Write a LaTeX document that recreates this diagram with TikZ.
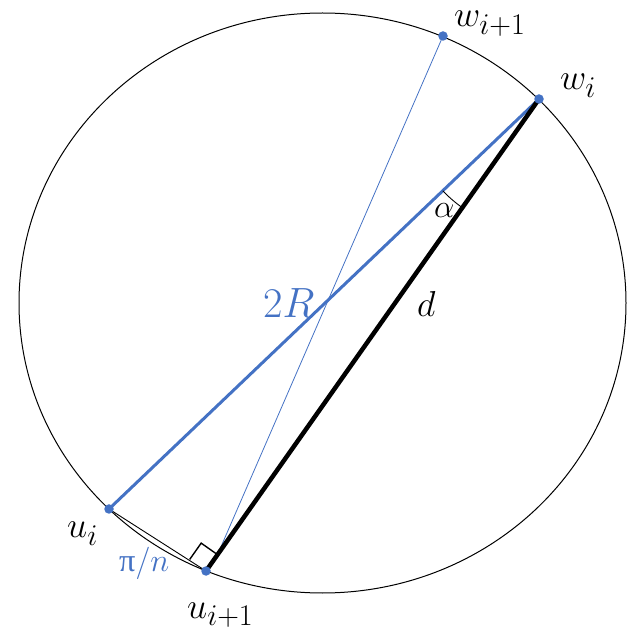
\documentclass[tikz,border=0pt]{standalone}
\usepackage{graphicx}
\usepackage{fontspec}
\newfontfamily\greekfont{Liberation Serif}
\usetikzlibrary{calc,angles}
\definecolor{chordblue}{HTML}{4472C4}
\newcommand{\biglbl}[2]{\scalebox{#1}{\Huge #2}}

\begin{document}
\begin{tikzpicture}[x=1pt, y=-1pt,
  dot/.style = {circle, fill=chordblue, inner sep=0pt, minimum size=9.5pt},
  lbl/.style = {inner sep=0pt, anchor=base west}]
\useasboundingbox (0,0) rectangle (641,631);

% points on the circle
\coordinate (O)   at (322.5,303);
\coordinate (wip) at (443,36);
\coordinate (wi)  at (539,99);
\coordinate (ui)  at (109,509);
\coordinate (uip) at (206,571);

% right angle corner
\coordinate (sq1) at ($(uip)!20pt!(wi)$);
\coordinate (sq2) at ($(uip)!20pt!90:(wi)$);
\coordinate (sq3) at ($(sq1)+(sq2)-(uip)$);

\draw[line width=1pt] (O) ellipse [x radius=303.5, y radius=290];

\draw[chordblue, line width=0.8pt] (wip) -- (sq1);
\draw[line width=0.9pt] (ui) -- (uip);
\draw[line width=1.4pt] (sq2) -- (sq3) -- (sq1);
\draw[chordblue, line width=3pt] (ui) -- (wi);
\draw[line width=4.5pt] (uip) -- (wi);

\pic[draw, line width=0.9pt, angle radius=133pt] {angle = ui--wi--uip};

\node[dot] (wip dot) at (wip) {};
\node[dot] (wi dot)  at (wi)  {};
\node[dot] (ui dot)  at (ui)  {};
\node[dot] (uip dot) at (uip) {};

% labels
\node[lbl] (wip lbl) at (454,27)  {\biglbl{1.45}{$w_{i+1}$}};
\node[lbl] (wi lbl)  at (560,90)  {\biglbl{1.45}{$w_i$}};
\node[lbl] (ui lbl)  at (67,538)  {\biglbl{1.45}{$u_i$}};
\node[lbl] (uip lbl) at (187,618) {\biglbl{1.45}{$u_{i+1}$}};
\node[lbl] (d lbl)   at (417,317) {\biglbl{1.45}{$d$}};
\node[lbl, text=chordblue] (R lbl) at (263,318) {\biglbl{1.7}{$2R$}};
\node[lbl] (alpha lbl) at (434,218) {\biglbl{1.3}{$\alpha$}};
\node[lbl, text=chordblue] (pin lbl) at (119,572) {\biglbl{1.3}{{\greekfont π}$/n$}};
\end{tikzpicture}
\end{document}
